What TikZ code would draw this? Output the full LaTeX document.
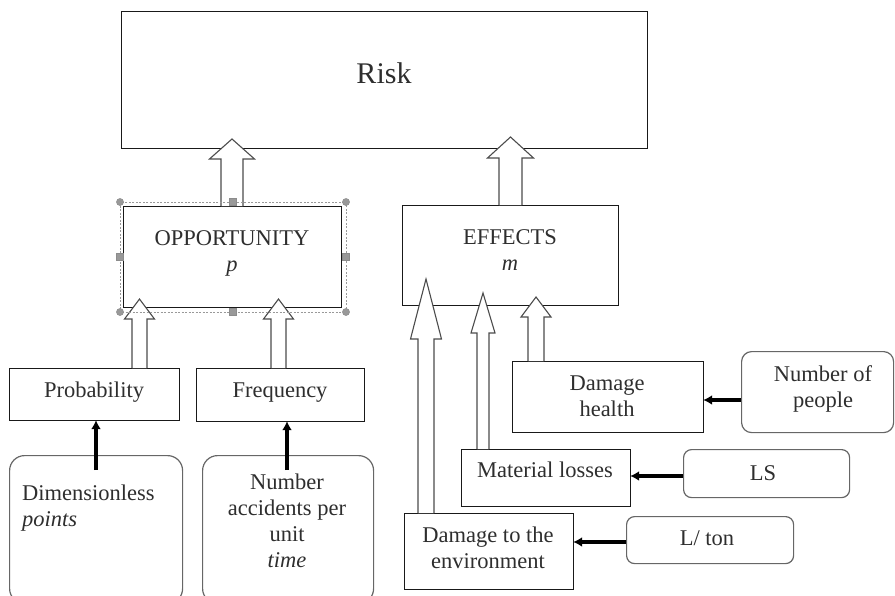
\documentclass[tikz,border=0pt]{standalone}
\usepackage{fontspec}
\setmainfont{Liberation Serif}
\usetikzlibrary{arrows.meta}

% hollow block arrow: #1 source node, #2 centre x, #3 tip y, #4 head base y,
% #5 half shaft width, #6 half head width
\newcommand\blockarrow[6]{%
  \draw[hollow] (#2-#5,0 |- #1.north) -- (#2-#5,#4) -- (#2-#6,#4) -- (#2,#3)
    -- (#2+#6,#4) -- (#2+#5,#4) -- (#2+#5,0 |- #1.north);}

\begin{document}
\begin{tikzpicture}[x=1pt,y=-1pt,
  box/.style={draw=black!90, line width=1.2pt, inner sep=0pt, anchor=north west},
  rbox/.style={draw=black!60, line width=1.2pt, rounded corners=#1, inner sep=0pt, anchor=north west},
  hollow/.style={draw=black!70, fill=white, line width=1.1pt, line join=miter},
  push/.style={draw=black, line width=3.4pt, -{Latex[length=9pt,width=10pt]}, shorten >=-1pt},
  txt/.style={font=\fontsize{22.5}{26}\selectfont, text=black!82, inner sep=0pt, anchor=base, align=center},
  handle/.style={fill=black!40, draw=black!45, line width=0.4pt}
]
\path[use as bounding box, clip] (0,0) rectangle (895,595);

% boxes
\node[box, minimum width=526pt, minimum height=137pt] (risk) at (121,11) {};
\node[box, minimum width=218pt, minimum height=101pt] (opp) at (123,206) {};
\node[box, minimum width=216pt, minimum height=100pt] (eff) at (402,205) {};
\node[box, minimum width=170pt, minimum height=52pt] (prob) at (9,368) {};
\node[box, minimum width=168pt, minimum height=53pt] (freq) at (196,368) {};
\node[rbox=15pt, minimum width=173pt, minimum height=148pt] (dimless) at (9,455) {};
\node[rbox=15pt, minimum width=171pt, minimum height=148pt] (numacc) at (202,455) {};
\node[box, minimum width=191pt, minimum height=71pt] (health) at (512,361) {};
\node[rbox=10pt, minimum width=152pt, minimum height=81pt] (people) at (741,351) {};
\node[box, minimum width=169pt, minimum height=57pt] (matloss) at (461,449) {};
\node[rbox=8pt, minimum width=166pt, minimum height=48pt] (ls) at (683,449) {};
\node[box, minimum width=169pt, minimum height=76pt] (env) at (404,513) {};
\node[rbox=8pt, minimum width=167pt, minimum height=47pt] (lton) at (626,516) {};

% texts (base anchor sits on the last line)
\node[txt, font=\fontsize{30}{34}\selectfont] (risktxt) at (384,83) {Risk};
\node[txt] (opptxt) at (232,271) {OPPORTUNITY\\\textit{p}};
\node[txt] (efftxt) at (510,270) {EFFECTS\\\textit{m}};
\node[txt] (probtxt) at (94,397) {Probability};
\node[txt] (freqtxt) at (280,397) {Frequency};
\node[txt, anchor=base west, align=left] (dimtxt) at (22,526) {Dimensionless\\\textit{points}};
\node[txt] (acctxt) at (287,567) {Number\\accidents per\\unit\\\textit{time}};
\node[txt] (healthtxt) at (607,416) {Damage\\health};
\node[txt] (peopletxt) at (823,407) {Number of\\people};
\node[txt] (mattxt) at (545,477) {Material losses};
\node[txt] (lstxt) at (763,480) {LS};
\node[txt] (envtxt) at (488,568) {Damage to the\\environment};
\node[txt] (ltontxt) at (707,545) {L/ ton};

% hollow arrows
\blockarrow{opp}{232}{139}{159}{11}{22.5}
\blockarrow{eff}{510.5}{137}{158}{11.5}{23}
\blockarrow{prob}{139.5}{299}{319}{7.5}{15}
\blockarrow{freq}{278.5}{299}{319}{7.5}{15}
\blockarrow{env}{426}{279}{339}{8}{15.5}
\blockarrow{matloss}{483}{293}{333}{6}{12}
\blockarrow{health}{536}{297}{317}{8}{15}

% solid arrows
\coordinate (dimstart) at (96,470);
\coordinate (accstart) at (287,470);
\draw[push] (dimstart) -- (dimstart |- prob.south);
\draw[push] (accstart) -- (accstart |- freq.south);
\draw[push] (people.west |- 0,400) -- (health.east |- 0,400);
\draw[push] (ls.west |- 0,476) -- (matloss.east |- 0,476);
\draw[push] (lton.west |- 0,542) -- (env.east |- 0,542);

% selection frame with handles
\draw[black!40, line width=0.6pt, dash pattern=on 2pt off 1.5pt] (120,202) rectangle (346,312);
\foreach \cx/\cy in {120/202,346/202,120/312,346/312}
  \fill[handle] (\cx,\cy) circle (3.6pt);
\foreach \cx/\cy in {233/202,233/312,120/257,346/257}
  \filldraw[handle] (\cx-3.5,\cy-3.5) rectangle (\cx+3.5,\cy+3.5);
\end{tikzpicture}
\end{document}
